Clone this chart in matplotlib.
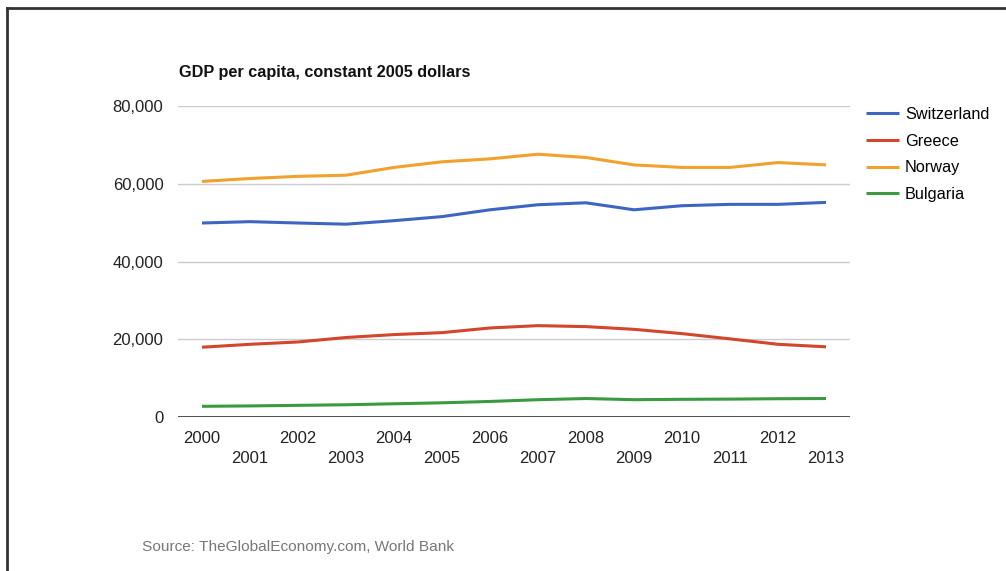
import matplotlib
matplotlib.use("Agg")
import matplotlib.pyplot as plt
from matplotlib.lines import Line2D
from matplotlib.ticker import FuncFormatter

years = list(range(2000, 2014))
switzerland = [49900, 50250, 49900, 49600, 50500, 51550, 53300, 54600, 55100, 53300, 54350, 54700, 54700, 55200]
greece = [17950, 18700, 19300, 20450, 21200, 21700, 22900, 23500, 23250, 22550, 21450, 20100, 18700, 18050]
norway = [60600, 61350, 61900, 62200, 64200, 65650, 66400, 67600, 66750, 64850, 64200, 64200, 65450, 64850]
bulgaria = [2750, 2850, 3000, 3150, 3400, 3650, 4000, 4450, 4750, 4450, 4550, 4600, 4700, 4750]

series_names = ["Switzerland", "Greece", "Norway", "Bulgaria"]
series_values = [switzerland, greece, norway, bulgaria]
series_colors = ["#3d66c2", "#d2462b", "#f2a12c", "#3a9a3f"]

yticks = [0, 20000, 40000, 60000, 80000]
title = "GDP per capita, constant 2005 dollars"
source = "Source: TheGlobalEconomy.com, World Bank"

plt.rcParams["font.family"] = ["Liberation Sans", "DejaVu Sans"]

W, H = 1006, 571
fig = plt.figure(figsize=(W / 100, H / 100), dpi=100)
fig.patch.set_facecolor("white")

# axes placement in pixels
left, right, top, bottom = 178, 850, 106, 417
ax = fig.add_axes([left / W, 1 - bottom / H, (right - left) / W, (bottom - top) / H])

x = list(range(len(years)))
for name, vals, col in zip(series_names, series_values, series_colors):
    ax.plot(x, vals, color=col, lw=2.2, label=name, solid_capstyle="butt", solid_joinstyle="round")

ax.set_xlim(-0.5, len(years) - 0.5)
ax.set_ylim(0, 80000)
ax.set_yticks(yticks)
ax.yaxis.set_major_formatter(FuncFormatter(lambda v, p: f"{int(v):,}"))
ax.set_xticks(x)
ax.set_xticklabels([str(y) if i % 2 == 0 else "\n" + str(y) for i, y in enumerate(years)])

for s in ax.spines.values():
    s.set_visible(False)
ax.tick_params(axis="both", length=0, labelsize=12, colors="#222222")
ax.tick_params(axis="y", pad=10.5)
ax.tick_params(axis="x", pad=10)
for lab in ax.get_xticklabels():
    lab.set_linespacing(1.45)

ax.grid(axis="y", color="#cccccc", lw=1)
ax.set_axisbelow(True)
ax.axhline(0, color="#333333", lw=1.2, zorder=1)

fig.text(179 / W, 1 - 72.5 / H, title, fontsize=11.7, fontweight="bold", va="center", ha="left", color="#111111")
fig.text(142 / W, 1 - 547 / H, source, fontsize=11.1, va="center", ha="left", color="#777777")

leg = fig.legend(loc="upper left", bbox_to_anchor=(866 / W, 1 - 107 / H), frameon=False,
                 fontsize=11.7, handlelength=2.0, handletextpad=0.4, labelspacing=0.72,
                 borderaxespad=0, borderpad=0)
for line in leg.get_lines():
    line.set_linewidth(2.2)

# page border (top and left)
fig.add_artist(Line2D([7 / W, 1], [1 - 8 / H, 1 - 8 / H], color="#333333", lw=2, transform=fig.transFigure))
fig.add_artist(Line2D([7 / W, 7 / W], [0, 1 - 8 / H], color="#333333", lw=2, transform=fig.transFigure))

fig.savefig("out.png", dpi=100)
